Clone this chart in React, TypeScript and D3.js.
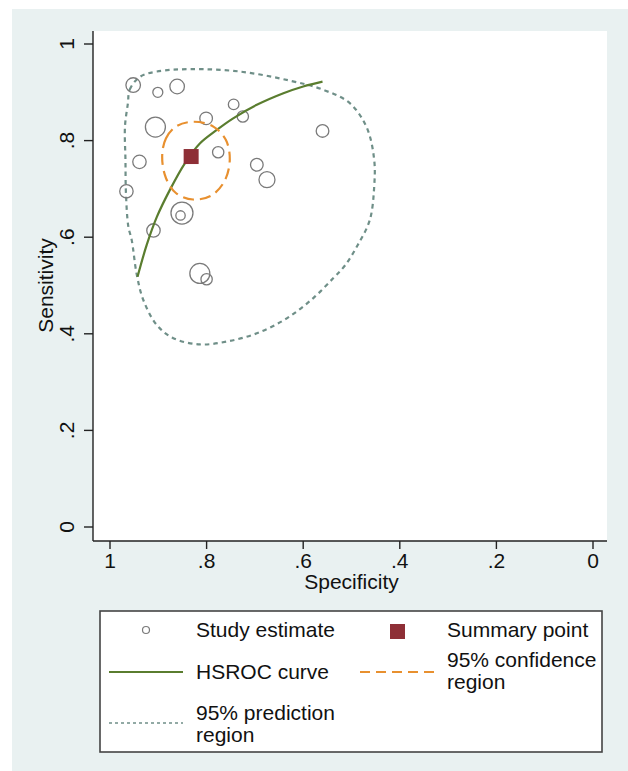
import React from "react";
import * as d3 from "d3";

// Individual study estimates: specificity, sensitivity and study weight
const studySpec = [0.952, 0.901, 0.861, 0.744, 0.801, 0.725, 0.906, 0.56, 0.776, 0.939, 0.696, 0.675, 0.966, 0.851, 0.854, 0.91, 0.814, 0.8];
const studySens = [0.915, 0.9, 0.912, 0.875, 0.846, 0.85, 0.828, 0.82, 0.776, 0.756, 0.75, 0.719, 0.695, 0.65, 0.645, 0.614, 0.525, 0.513];
const studyWeight = [53, 25, 53, 28, 40, 32, 100, 40, 32, 45, 40, 64, 45, 121, 22, 45, 100, 32];

// Summary operating point
const summarySpec = 0.832;
const summarySens = 0.767;

// HSROC curve
const curveSpec = [0.943, 0.924, 0.903, 0.876, 0.845, 0.814, 0.779, 0.745, 0.696, 0.641, 0.6, 0.56];
const curveSens = [0.518, 0.584, 0.642, 0.698, 0.753, 0.794, 0.822, 0.846, 0.874, 0.898, 0.912, 0.922];

// 95% confidence region contour
const confSpec = [0.892, 0.884, 0.862, 0.826, 0.786, 0.76, 0.752, 0.762, 0.789, 0.828, 0.863, 0.884];
const confSens = [0.767, 0.805, 0.83, 0.839, 0.829, 0.801, 0.761, 0.718, 0.687, 0.678, 0.691, 0.722];

// 95% prediction region contour
const predSpec = [0.963, 0.959, 0.938, 0.903, 0.834, 0.731, 0.627, 0.558, 0.503, 0.468, 0.453, 0.453, 0.462, 0.487, 0.513, 0.538, 0.579, 0.634, 0.696, 0.758, 0.814, 0.869, 0.903, 0.931, 0.945, 0.955, 0.962, 0.967, 0.968, 0.969];
const predSens = [0.877, 0.906, 0.932, 0.943, 0.948, 0.943, 0.924, 0.905, 0.877, 0.826, 0.76, 0.705, 0.636, 0.584, 0.542, 0.515, 0.474, 0.432, 0.401, 0.384, 0.378, 0.391, 0.418, 0.47, 0.525, 0.594, 0.622, 0.691, 0.76, 0.829];

// Axis ticks
const xTicks = [1, 0.8, 0.6, 0.4, 0.2, 0];
const yTicks = [0, 0.2, 0.4, 0.6, 0.8, 1];
const tickLabel = (v: number) => (v === 0 || v === 1 ? String(v) : String(v).replace(/^0/, ""));

const W = 628;
const H = 771;
const FONT = "'Liberation Sans', Arial, sans-serif";
const FS = 21;

const BG = "#e9f1f1";
const GREEN = "#5a7d2f";
const ORANGE = "#e8902f";
const PRED = "#6f8f88";
const CIRCLE = "#7a7a7a";
const SUMMARY = "#8e2f36";

export default function App() {
  const x = d3.scaleLinear().domain([1, 0]).range([110, 593]);
  const y = d3.scaleLinear().domain([0, 1]).range([527, 44]);
  const r = d3.scaleSqrt().domain([0, 121]).range([0, 11]);

  const plotL = 93, plotR = 607, plotT = 31, plotB = 541;

  const hsroc = d3
    .line<number>()
    .x((_, i) => x(curveSpec[i]))
    .y((_, i) => y(curveSens[i]))
    .curve(d3.curveCatmullRom)(curveSpec);

  const conf = d3
    .line<number>()
    .x((_, i) => x(confSpec[i]))
    .y((_, i) => y(confSens[i]))
    .curve(d3.curveCatmullRomClosed)(confSpec);

  const pred = d3
    .line<number>()
    .x((_, i) => x(predSpec[i]))
    .y((_, i) => y(predSens[i]))
    .curve(d3.curveCatmullRomClosed)(predSpec);

  const sq = 15;

  return (
    <svg
      width={W}
      height={H}
      style={{ position: "absolute", left: 0, top: 0 }}
      fontFamily={FONT}
    >
      <rect x={0} y={0} width={W} height={H} fill="#ffffff" />
      <rect x={12} y={9} width={W - 12} height={H - 9} fill={BG} />
      <rect x={plotL} y={plotT} width={plotR - plotL} height={plotB - plotT} fill="#ffffff" />

      {/* Y axis */}
      <line x1={plotL} x2={plotL} y1={plotT} y2={plotB} stroke="#222" strokeWidth={1.4} />
      {yTicks.map((t) => (
        <g key={"y" + t}>
          <line x1={plotL - 9} x2={plotL} y1={y(t)} y2={y(t)} stroke="#222" strokeWidth={1.4} />
          <text
            transform={`translate(74,${y(t)}) rotate(-90)`}
            textAnchor="middle"
            fontSize={FS}
            fill="#111"
          >
            {tickLabel(t)}
          </text>
        </g>
      ))}
      <text transform={`translate(53,${(y(0) + y(1)) / 2}) rotate(-90)`} textAnchor="middle" fontSize={FS} fill="#111">
        Sensitivity
      </text>

      {/* X axis */}
      <line x1={plotL} x2={plotR} y1={plotB} y2={plotB} stroke="#222" strokeWidth={1.4} />
      {xTicks.map((t) => (
        <g key={"x" + t}>
          <line x1={x(t)} x2={x(t)} y1={plotB} y2={plotB + 8} stroke="#222" strokeWidth={1.4} />
          <text x={x(t)} y={568} textAnchor="middle" fontSize={FS} fill="#111">
            {tickLabel(t)}
          </text>
        </g>
      ))}
      <text x={(x(1) + x(0)) / 2} y={589} textAnchor="middle" fontSize={FS} fill="#111">
        Specificity
      </text>

      {/* Prediction region */}
      <path d={pred ?? ""} fill="none" stroke={PRED} strokeWidth={2.2} strokeDasharray="4.5,4" />

      {/* Study estimates */}
      {studySpec.map((s, i) => (
        <circle
          key={"s" + i}
          cx={x(s)}
          cy={y(studySens[i])}
          r={r(studyWeight[i])}
          fill="none"
          stroke={CIRCLE}
          strokeWidth={1.3}
        />
      ))}

      {/* HSROC curve */}
      <path d={hsroc ?? ""} fill="none" stroke={GREEN} strokeWidth={2.2} />

      {/* Confidence region */}
      <path d={conf ?? ""} fill="none" stroke={ORANGE} strokeWidth={2.2} strokeDasharray="11,6" />

      {/* Summary point */}
      <rect
        x={x(summarySpec) - sq / 2}
        y={y(summarySens) - sq / 2}
        width={sq}
        height={sq}
        fill={SUMMARY}
      />

      {/* Legend */}
      <g>
        <rect x={100} y={611} width={502} height={141} fill="#ffffff" stroke="#444" strokeWidth={1.6} />
        <circle cx={146} cy={630} r={3.5} fill="none" stroke={CIRCLE} strokeWidth={1.2} />
        <text x={196} y={637} fontSize={FS} fill="#111">Study estimate</text>
        <rect x={390} y={624} width={15} height={15} fill={SUMMARY} />
        <text x={447} y={637} fontSize={FS} fill="#111">Summary point</text>

        <line x1={109} x2={183} y1={672} y2={672} stroke={GREEN} strokeWidth={2} />
        <text x={196} y={679} fontSize={FS} fill="#111">HSROC curve</text>
        <line x1={360} x2={435} y1={672} y2={672} stroke={ORANGE} strokeWidth={2} strokeDasharray="10,6" />
        <text x={447} y={667} fontSize={FS} fill="#111">95% confidence</text>
        <text x={447} y={689} fontSize={FS} fill="#111">region</text>

        <line x1={109} x2={183} y1={723} y2={723} stroke={PRED} strokeWidth={1.5} strokeDasharray="3,3" />
        <text x={196} y={720} fontSize={FS} fill="#111">95% prediction</text>
        <text x={196} y={742} fontSize={FS} fill="#111">region</text>
      </g>
    </svg>
  );
}
